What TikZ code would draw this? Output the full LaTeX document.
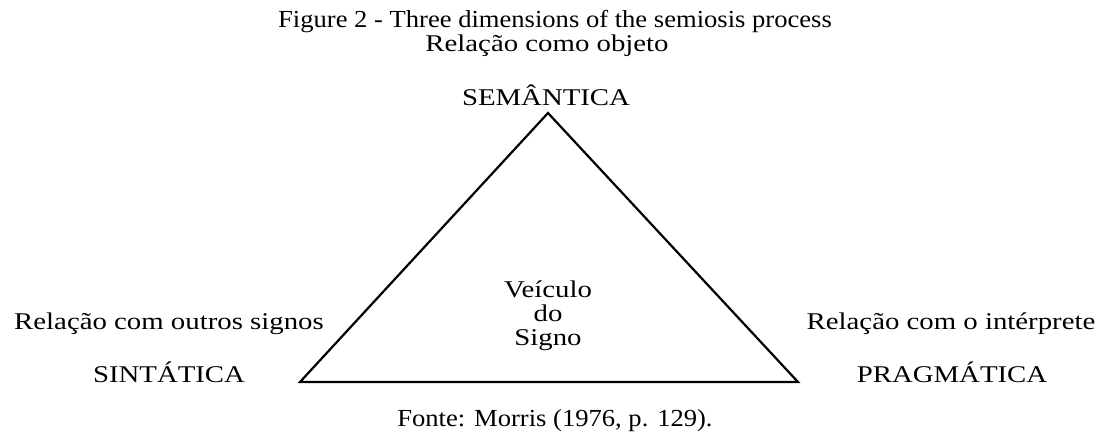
\documentclass[tikz,border=0pt]{standalone}
\usepackage{fontspec}
\setmainfont{Liberation Serif}
\newcommand{\widelab}[1]{\scalebox{1.2}[1]{#1}}
\newcommand{\widecap}[1]{\scalebox{1.085}[1]{#1}}
\begin{document}
\begin{tikzpicture}[x=1pt,y=-1pt,
  captext/.style={inner sep=0pt,anchor=base,font=\fontsize{24.5}{28}\selectfont},
  labtext/.style={inner sep=0pt,anchor=base,font=\fontsize{24}{28}\selectfont},
  triline/.style={draw=black,line width=2.2pt,line join=miter}]
\useasboundingbox (0,0) rectangle (1101,436);
\node[captext] (title) at (555,28) {\widecap{Figure 2 - Three dimensions of the semiosis process}};
\node[labtext] (objrel) at (547,51.5) {\widelab{Relação como objeto}};
\node[labtext] (sem) at (546,106) {\widelab{SEMÂNTICA}};
\node[labtext] (sinrel) at (169,329) {\widelab{Relação com outros signos}};
\node[labtext] (sin) at (169,382) {\widelab{SINTÁTICA}};
\node[labtext] (prarel) at (951,329) {\widelab{Relação com o intérprete}};
\node[labtext] (pra) at (952,382) {\widelab{PRAGMÁTICA}};
\node[labtext] (v1) at (548,297) {\widelab{Veículo}};
\node[labtext] (v2) at (548,321) {\widelab{do}};
\node[labtext] (v3) at (548,345) {\widelab{Signo}};
\node[captext] (src) at (555,426) {\widecap{Fonte: Morris (1976, p. 129).}};
\coordinate (apex) at (548,113);
\coordinate (bl) at (300,382);
\coordinate (br) at (798,382);
\draw[triline] (apex) -- (bl) -- (br) -- cycle;
\end{tikzpicture}
\end{document}
